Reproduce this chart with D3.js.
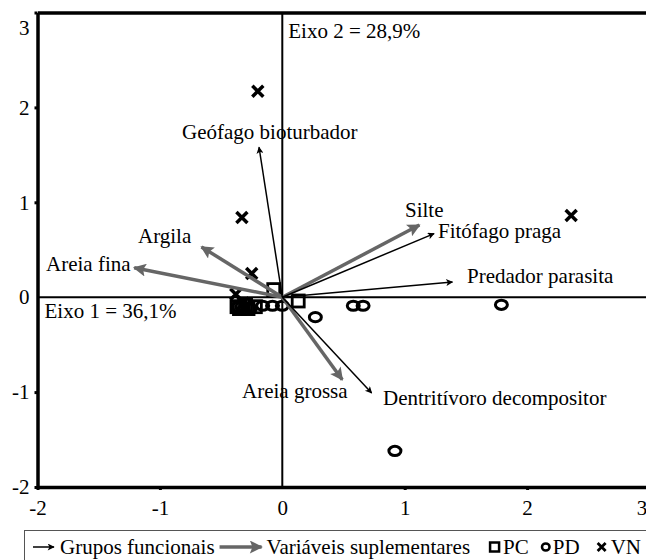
<!DOCTYPE html>
<html><head><meta charset="utf-8">
<script src="https://cdn.jsdelivr.net/npm/d3@7"></script>
<style>
html,body{margin:0;padding:0;background:#fff;}
svg{display:block;}
text{font-family:"Liberation Serif","Times New Roman",serif;}
</style></head>
<body>
<script>
// ---- data ----
const xTicks = [-2, -1, 0, 1, 2, 3];
const yTicks = [-2, -1, 0, 1, 2, 3];
const axisLabel1 = "Eixo 1 = 36,1%";
const axisLabel2 = "Eixo 2 = 28,9%";

// Grupos funcionais (black arrows)
const grupos = [
  {name: "Geófago bioturbador", x: -0.19, y: 1.58},
  {name: "Fitófago praga", x: 1.24, y: 0.67},
  {name: "Predador parasita", x: 1.39, y: 0.16},
  {name: "Dentritívoro decompositor", x: 0.73, y: -1.01}
];
// Variáveis suplementares (grey arrows)
const variaveis = [
  {name: "Silte", x: 1.12, y: 0.76},
  {name: "Argila", x: -0.66, y: 0.53},
  {name: "Areia fina", x: -1.21, y: 0.31},
  {name: "Areia grossa", x: 0.49, y: -0.87}
];
// sample scores
const pcX = [-0.07, 0.13, -0.37, -0.35, -0.30, -0.28, -0.22];
const pcY = [0.08, -0.04, -0.10, -0.12, -0.08, -0.12, -0.10];
const pdX = [0.58, 0.66, 1.79, 0.27, 0.92, -0.36, -0.33, -0.26, -0.16, -0.08, 0.00];
const pdY = [-0.09, -0.09, -0.08, -0.21, -1.62, -0.10, -0.10, -0.12, -0.09, -0.09, -0.09];
const vnX = [-0.20, -0.33, -0.25, 2.36, -0.38, -0.32];
const vnY = [2.17, 0.84, 0.25, 0.86, 0.03, -0.06];
const legendNames = ["Grupos funcionais", "Variáveis suplementares", "PC", "PD", "VN"];

// ---- layout ----
const W = 646, H = 560;
const x = d3.scaleLinear().domain([-2, 3]).range([37.5, 649.5]);
const y = d3.scaleLinear().domain([-2, 3]).range([487, 12.5]);
const FONT = 21;
const GREY = "#666666";
const SERIF = '"Liberation Serif","Times New Roman",serif';

const svg = d3.select("body").append("svg").attr("width", W).attr("height", H)
  .attr("font-family", SERIF);

const defs = svg.append("defs");
defs.append("marker").attr("id", "hb").attr("viewBox", "0 0 10 10")
  .attr("refX", 9).attr("refY", 5).attr("markerUnits", "userSpaceOnUse")
  .attr("markerWidth", 10).attr("markerHeight", 7).attr("orient", "auto")
  .append("path").attr("d", "M0,0 L10,5 L0,10 L2.5,5 Z").attr("fill", "#000");
defs.append("marker").attr("id", "hg").attr("viewBox", "0 0 10 10")
  .attr("refX", 9).attr("refY", 5).attr("markerUnits", "userSpaceOnUse")
  .attr("markerWidth", 17).attr("markerHeight", 13).attr("orient", "auto")
  .append("path").attr("d", "M0,0 L10,5 L0,10 L2,5 Z").attr("fill", GREY);

// zero lines
svg.append("line").attr("x1", x(-2)).attr("x2", W + 10).attr("y1", y(0)).attr("y2", y(0))
  .attr("stroke", "#000").attr("stroke-width", 2);
svg.append("line").attr("x1", x(0)).attr("x2", x(0)).attr("y1", y(3)).attr("y2", y(-2))
  .attr("stroke", "#000").attr("stroke-width", 2);

// axes
const fmt = d => String(d);
const gx = svg.append("g").attr("transform", `translate(0,${y(-2)})`)
  .call(d3.axisBottom(x).tickValues(xTicks).tickSize(3).tickSizeOuter(0).tickFormat(fmt));
const gy = svg.append("g").attr("transform", `translate(${x(-2)},0)`)
  .call(d3.axisLeft(y).tickValues(yTicks).tickSize(3).tickSizeOuter(0).tickFormat(fmt));
const gtop = svg.append("g").attr("transform", `translate(0,${y(3)})`)
  .call(d3.axisTop(x).tickValues([]).tickSizeOuter(0));
[gx, gy, gtop].forEach(g => {
  g.attr("font-family", SERIF).attr("font-size", FONT);
  g.select(".domain").attr("stroke", "#000").attr("stroke-width", 3.5);
  g.selectAll(".tick line").attr("stroke", "#000").attr("stroke-width", 3);
  g.selectAll("text").attr("fill", "#000");
});
gx.selectAll(".tick text").attr("y", 28).attr("dy", 0);
gx.selectAll(".tick").filter(d => d === 3).select("text").attr("x", -8);
gx.selectAll(".tick").filter(d => d === 0).select("line").remove();
gy.selectAll(".tick text").attr("x", -8);
gy.selectAll(".tick").filter(d => d === 3).select("text").attr("y", 15);
gy.selectAll(".tick").filter(d => d === 0).select("line").remove();

// axis percent labels
svg.append("text").attr("x", x(0) + 6).attr("y", 38).attr("font-size", FONT).text(axisLabel2);
svg.append("text").attr("x", x(-2) + 7).attr("y", 318).attr("font-size", FONT).text(axisLabel1);

// sample markers
const pcData = pcX.map((v, i) => ({x: v, y: pcY[i]}));
const pdData = pdX.map((v, i) => ({x: v, y: pdY[i]}));
const vnData = vnX.map((v, i) => ({x: v, y: vnY[i]}));

svg.append("g").selectAll("rect").data(pcData).join("rect")
  .attr("x", d => x(d.x) - 6).attr("y", d => y(d.y) - 6).attr("width", 12).attr("height", 12)
  .attr("fill", "none").attr("stroke", "#000").attr("stroke-width", 2.8);
svg.append("g").selectAll("ellipse").data(pdData).join("ellipse")
  .attr("cx", d => x(d.x)).attr("cy", d => y(d.y)).attr("rx", 6).attr("ry", 4.6)
  .attr("fill", "none").attr("stroke", "#000").attr("stroke-width", 3);
svg.append("g").selectAll("path").data(vnData).join("path")
  .attr("d", d => { const cx = x(d.x), cy = y(d.y), s = 5.5;
    return `M${cx - s},${cy - s}L${cx + s},${cy + s}M${cx - s},${cy + s}L${cx + s},${cy - s}`; })
  .attr("stroke", "#000").attr("stroke-width", 3.5).attr("fill", "none");

// arrows
svg.append("g").selectAll("line").data(variaveis).join("line")
  .attr("x1", x(0)).attr("y1", y(0)).attr("x2", d => x(d.x)).attr("y2", d => y(d.y))
  .attr("stroke", GREY).attr("stroke-width", 3.5).attr("marker-end", "url(#hg)");
svg.append("g").selectAll("line").data(grupos).join("line")
  .attr("x1", x(0)).attr("y1", y(0)).attr("x2", d => x(d.x)).attr("y2", d => y(d.y))
  .attr("stroke", "#000").attr("stroke-width", 1.5).attr("marker-end", "url(#hb)");

// arrow labels
const labelPos = {
  "Geófago bioturbador": [182, 139],
  "Fitófago praga": [438, 238],
  "Predador parasita": [467, 283],
  "Dentritívoro decompositor": [383, 405],
  "Silte": [405, 217],
  "Argila": [138, 243],
  "Areia fina": [46, 271],
  "Areia grossa": [242, 398]
};
svg.append("g").selectAll("text").data(grupos.concat(variaveis)).join("text")
  .attr("x", d => labelPos[d.name][0]).attr("y", d => labelPos[d.name][1])
  .attr("font-size", FONT).text(d => d.name);

// legend
const lg = svg.append("g");
lg.append("rect").attr("x", 24.5).attr("y", 530.5).attr("width", 700).attr("height", 60)
  .attr("fill", "#fff").attr("stroke", "#555").attr("stroke-width", 1);
const ly = 554, lc = 547;
let cx = 33;
lg.append("line").attr("x1", cx).attr("x2", cx + 21).attr("y1", lc).attr("y2", lc)
  .attr("stroke", "#000").attr("stroke-width", 1.5).attr("marker-end", "url(#hb)");
cx += 27;
let t = lg.append("text").attr("x", cx).attr("y", ly).attr("font-size", FONT).text(legendNames[0]);
cx += t.node().getComputedTextLength() + 5;
lg.append("line").attr("x1", cx).attr("x2", cx + 42).attr("y1", lc).attr("y2", lc)
  .attr("stroke", GREY).attr("stroke-width", 3.5).attr("marker-end", "url(#hg)");
cx += 47;
t = lg.append("text").attr("x", cx).attr("y", ly).attr("font-size", FONT).text(legendNames[1]);
cx += t.node().getComputedTextLength() + 20;
lg.append("rect").attr("x", cx).attr("y", lc - 4.5).attr("width", 9).attr("height", 9)
  .attr("fill", "none").attr("stroke", "#000").attr("stroke-width", 2.5);
cx += 13;
t = lg.append("text").attr("x", cx).attr("y", ly).attr("font-size", FONT).text(legendNames[2]);
cx += t.node().getComputedTextLength() + 17;
lg.append("ellipse").attr("cx", cx).attr("cy", lc).attr("rx", 3.8).attr("ry", 3.5)
  .attr("fill", "none").attr("stroke", "#000").attr("stroke-width", 2.5);
cx += 7;
t = lg.append("text").attr("x", cx).attr("y", ly).attr("font-size", FONT).text(legendNames[3]);
cx += t.node().getComputedTextLength() + 22;
lg.append("path").attr("d", `M${cx - 4},${lc - 4}L${cx + 4},${lc + 4}M${cx - 4},${lc + 4}L${cx + 4},${lc - 4}`)
  .attr("stroke", "#000").attr("stroke-width", 2.8);
cx += 9;
lg.append("text").attr("x", cx).attr("y", ly).attr("font-size", FONT).text(legendNames[4]);
</script>
</body></html>
